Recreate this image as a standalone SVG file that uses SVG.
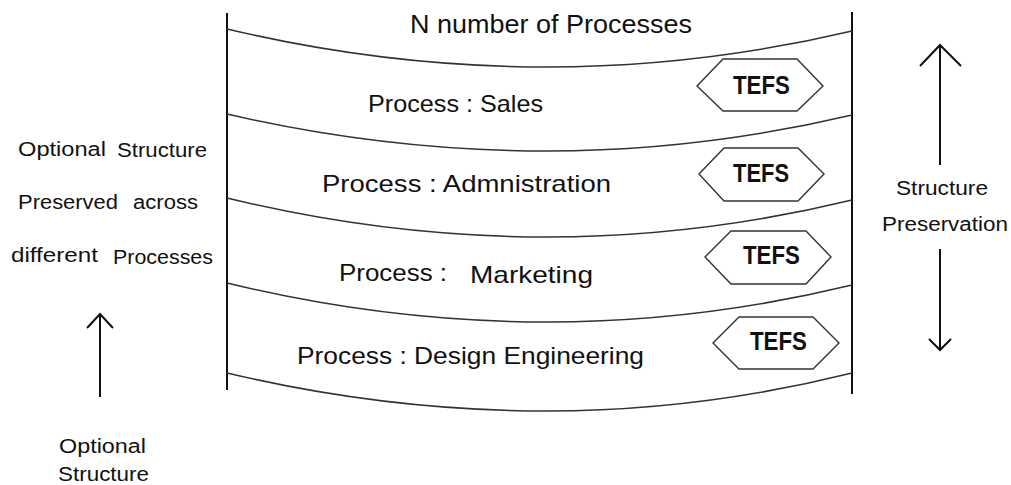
<svg xmlns="http://www.w3.org/2000/svg" width="1011" height="485" viewBox="0 0 1011 485">
<style>
text{font-family:"Liberation Sans",Arial,sans-serif;fill:#111;}
.band{font-size:24px;}
.title{font-size:25px;}
.side{font-size:20px;}
.tefs{font-size:25px;font-weight:bold;text-anchor:middle;}
.hex{fill:#fff;stroke:#333;stroke-width:1.4;}
.curve{fill:none;stroke:#333;stroke-width:1.5;}
.wall{stroke:#111;stroke-width:2;}
.arr{fill:none;stroke:#111;stroke-width:2;}
</style>
<rect width="1011" height="485" fill="#fff"/>
<g id="frame">
<line class="wall" x1="227" y1="13" x2="227" y2="390"/>
<line class="wall" x1="852" y1="12" x2="852" y2="394"/>
<path class="curve" d="M227,29 Q387,67 547,67 Q699.5,67 852,31"/>
<path class="curve" d="M227,114 Q387,151 547,151 Q699.5,151 852,115"/>
<path class="curve" d="M227,198 Q387,237 547,237 Q699.5,237 852,200"/>
<path class="curve" d="M227,283 Q387,322 547,322 Q699.5,322 852,285"/>
<path class="curve" d="M227,373 Q387,411 547,411 Q699.5,411 852,373"/>
</g>
<g id="title"><text class="title" x="410" y="33" textLength="282" lengthAdjust="spacingAndGlyphs">N number of Processes</text></g>
<g id="sales"><text class="band" x="368" y="112" textLength="175" lengthAdjust="spacingAndGlyphs">Process : Sales</text></g>
<g id="admin"><text class="band" x="322" y="192" textLength="289" lengthAdjust="spacingAndGlyphs">Process : Admnistration</text></g>
<g id="marketing"><text class="band" x="339" y="281" textLength="108" lengthAdjust="spacingAndGlyphs">Process :</text><text class="band" x="470" y="283" textLength="123" lengthAdjust="spacingAndGlyphs">Marketing</text></g>
<g id="design"><text class="band" x="297" y="364" textLength="347" lengthAdjust="spacingAndGlyphs">Process : Design Engineering</text></g>
<g id="tefs1"><polygon class="hex" points="697,86 723,59 797,59 823,86 797,111 723,111"/><text class="tefs" x="761.5" y="94" textLength="57" lengthAdjust="spacingAndGlyphs">TEFS</text></g>
<g id="tefs2"><polygon class="hex" points="699,174 724,148 798,148 824,174 798,201 724,201"/><text class="tefs" x="761" y="182" textLength="56" lengthAdjust="spacingAndGlyphs">TEFS</text></g>
<g id="tefs3"><polygon class="hex" points="705,257 731,231 806,231 831,257 806,284 731,284"/><text class="tefs" x="771.5" y="264" textLength="57" lengthAdjust="spacingAndGlyphs">TEFS</text></g>
<g id="tefs4"><polygon class="hex" points="713,343 739,317 813,317 839,343 813,369 739,369"/><text class="tefs" x="778.5" y="350" textLength="57" lengthAdjust="spacingAndGlyphs">TEFS</text></g>
<g id="left-label">
<text class="side" x="18" y="156" textLength="88" lengthAdjust="spacingAndGlyphs">Optional</text>
<text class="side" x="117" y="157" textLength="90" lengthAdjust="spacingAndGlyphs">Structure</text>
<text class="side" x="18" y="209" textLength="100" lengthAdjust="spacingAndGlyphs">Preserved</text>
<text class="side" x="133" y="209" textLength="65" lengthAdjust="spacingAndGlyphs">across</text>
<text class="side" x="11" y="262" textLength="87" lengthAdjust="spacingAndGlyphs">different</text>
<text class="side" x="113" y="264" textLength="100" lengthAdjust="spacingAndGlyphs">Processes</text>
</g>
<g id="optional-structure">
<text class="side" x="59" y="453" textLength="87" lengthAdjust="spacingAndGlyphs">Optional</text>
<text class="side" x="58" y="481" textLength="91" lengthAdjust="spacingAndGlyphs">Structure</text>
</g>
<g id="structure-preservation">
<text class="side" x="896" y="195" textLength="92" lengthAdjust="spacingAndGlyphs">Structure</text>
<text class="side" x="882" y="231" textLength="126" lengthAdjust="spacingAndGlyphs">Preservation</text>
</g>
<g id="connectors">
<line class="arr" x1="100" y1="397" x2="100" y2="315"/>
<polyline class="arr" points="87,328 100,314 113,328"/>
<line class="arr" x1="940" y1="165" x2="940" y2="46"/>
<polyline class="arr" points="920,66 940,45 961,66"/>
<line class="arr" x1="940" y1="249" x2="940" y2="349"/>
<polyline class="arr" points="929,339 940,350 951,339"/>
</g>
</svg>
